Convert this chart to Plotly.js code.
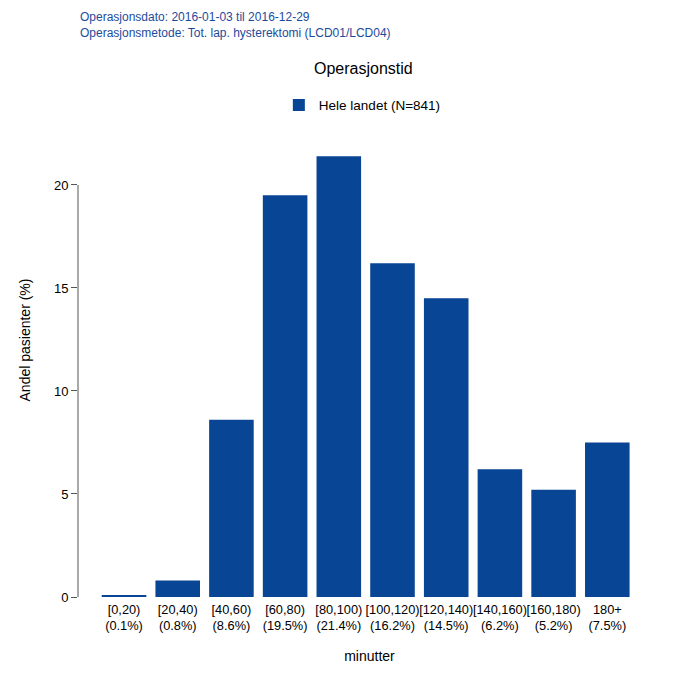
<!DOCTYPE html>
<html><head><meta charset="utf-8">
<script src="https://cdn.plot.ly/plotly-3.0.1.min.js"></script>
<style>html,body{margin:0;padding:0;background:#fff}#c{width:696px;height:696px}</style>
</head><body><div id="c"></div>
<script>
const categories = ["[0,20)","[20,40)","[40,60)","[60,80)","[80,100)","[100,120)","[120,140)","[140,160)","[160,180)","180+"];
const shares = [0.1,0.8,8.6,19.5,21.4,16.2,14.5,6.2,5.2,7.5];
const yTicks = [0,5,10,15,20];
const seriesName = "Hele landet (N=841)";
const infoLines = ["Operasjonsdato: 2016-01-03 til 2016-12-29","Operasjonsmetode: Tot. lap. hysterektomi (LCD01/LCD04)"];

const idx = categories.map((_, i) => i);
const tickText = categories.map((c, i) => c + "<br>(" + shares[i].toFixed(1) + "%)");
const FONT = "Liberation Sans, Arial, Helvetica, sans-serif";
const BLUE = "#084594";

const data = [{
  type: "bar", x: idx, y: shares, name: seriesName,
  marker: {color: BLUE, line: {width: 0}},
  showlegend: true, hoverinfo: "skip"
}];

const layout = {
  width: 696, height: 696,
  margin: {l: 78, r: 35, t: 83, b: 99},
  paper_bgcolor: "#fff", plot_bgcolor: "#fff",
  font: {family: FONT, size: 12, color: "#000"},
  bargap: 0.17,
  showlegend: true,
  legend: {x: 0.3445, y: 0.957, xanchor: "left", yanchor: "middle", orientation: "h",
           font: {size: 13.5, color: "#000"}, bgcolor: "rgba(0,0,0,0)"},
  xaxis: {
    range: [-0.857, 10.0], tickmode: "array", tickvals: idx, ticktext: tickText,
    showline: false, showgrid: false, zeroline: false, ticks: "",
    tickangle: 0, ticklabelstandoff: 3,
    tickfont: {size: 12.8, color: "#000"},
    title: {text: "minutter", font: {size: 14, color: "#000"}, standoff: 18}
  },
  yaxis: {
    range: [0, 24.95], tickmode: "array", tickvals: yTicks, ticktext: yTicks.map(String),
    showline: false, showgrid: false, zeroline: false,
    ticks: "outside", ticklen: 6, tickcolor: "#555", tickwidth: 1,
    tickfont: {size: 13, color: "#000"},
    title: {text: "Andel pasienter (%)", font: {size: 14, color: "#000"}, standoff: 20}
  },
  shapes: [{type: "line", xref: "paper", yref: "y", x0: 0, x1: 0, y0: yTicks[0], y1: yTicks[yTicks.length-1],
            line: {color: "#555", width: 1}}],
  annotations: [
    {xref: "paper", yref: "paper", x: 0.49, y: 1.0, yshift: 15, xanchor: "center", yanchor: "middle",
     text: "Operasjonstid", showarrow: false, font: {size: 16, color: "#000"}},
    {xref: "paper", yref: "paper", x: 0, y: 1.0, xshift: 0, yshift: 66, xanchor: "left", yanchor: "middle",
     text: infoLines[0], showarrow: false, font: {size: 12, color: "#1c4b9c"}},
    {xref: "paper", yref: "paper", x: 0, y: 1.0, xshift: 0, yshift: 50, xanchor: "left", yanchor: "middle",
     text: infoLines[1], showarrow: false, font: {size: 12, color: "#1c4b9c"}}
  ]
};
Plotly.newPlot("c", data, layout, {displayModeBar: false, staticPlot: true});
</script></body></html>
